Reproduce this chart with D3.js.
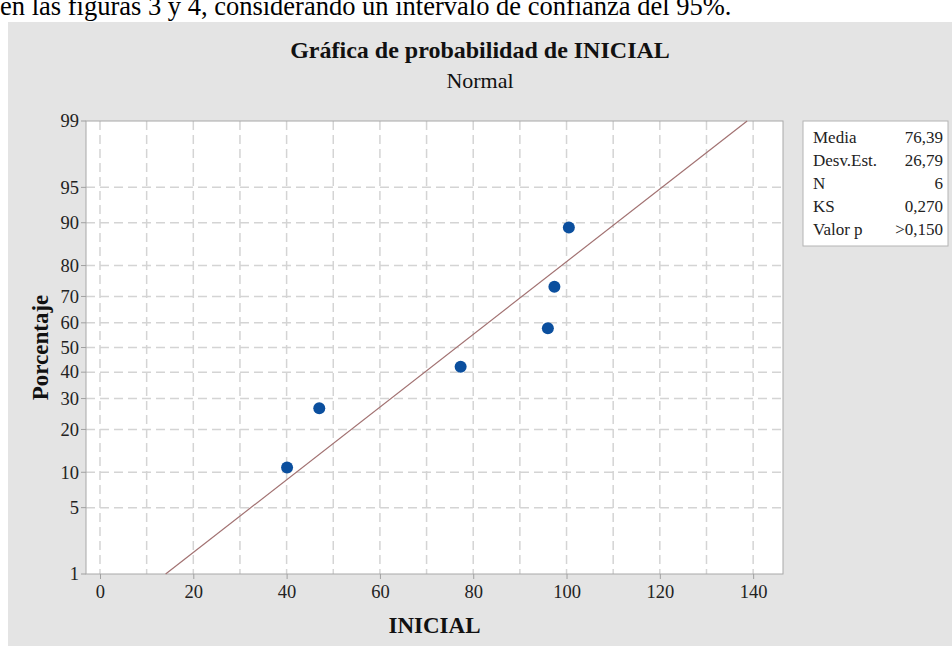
<!DOCTYPE html>
<html>
<head>
<meta charset="utf-8">
<script src="https://cdn.jsdelivr.net/npm/d3@7"></script>
<style>
  html, body { margin: 0; padding: 0; background: #ffffff; }
  svg { display: block; }
  svg text { font-family: "Liberation Serif", "DejaVu Serif", serif; }
</style>
</head>
<body>
<svg id="chart" width="952" height="646"></svg>
<script>
// Observed INICIAL values (sorted) and their plotting percentages
const values = [40.1, 47.0, 77.3, 96.0, 97.4, 100.5];
const percents = [10.9, 26.6, 42.2, 57.8, 73.4, 89.1];

// Fitted normal parameters
const fitMean = 76.39;
const fitSd = 26.79;

// Summary table rows
const statLabels = ["Media", "Desv.Est.", "N", "KS", "Valor p"];
const statValues = ["76,39", "26,79", "6", "0,270", ">0,150"];

// Axis ticks
const xTicks = [0, 20, 40, 60, 80, 100, 120, 140];
const xGrid = [0, 10, 20, 30, 40, 50, 60, 70, 80, 90, 100, 110, 120, 130, 140];
const yTicks = [1, 5, 10, 20, 30, 40, 50, 60, 70, 80, 90, 95, 99];

const SERIF = "'Liberation Serif', 'DejaVu Serif', serif";

// Inverse standard normal CDF (Acklam's rational approximation)
function probit(p) {
  const a = [-3.969683028665376e+01, 2.209460984245205e+02, -2.759285104469687e+02,
             1.383577518672690e+02, -3.066479806614716e+01, 2.506628277459239e+00];
  const b = [-5.447609879822406e+01, 1.615858368580409e+02, -1.556989798598866e+02,
             6.680131188771972e+01, -1.328068155288572e+01];
  const c = [-7.784894002430293e-03, -3.223964580411365e-01, -2.400758277161838e+00,
             -2.549732539343734e+00, 4.374664141464968e+00, 2.938163982698783e+00];
  const d = [7.784695709041462e-03, 3.224671290700398e-01, 2.445134137142996e+00,
             3.754408661907416e+00];
  const pl = 0.02425, ph = 1 - pl;
  let q, r;
  if (p < pl) {
    q = Math.sqrt(-2 * Math.log(p));
    return (((((c[0]*q+c[1])*q+c[2])*q+c[3])*q+c[4])*q+c[5]) /
           ((((d[0]*q+d[1])*q+d[2])*q+d[3])*q+1);
  }
  if (p <= ph) {
    q = p - 0.5; r = q * q;
    return (((((a[0]*r+a[1])*r+a[2])*r+a[3])*r+a[4])*r+a[5])*q /
           (((((b[0]*r+b[1])*r+b[2])*r+b[3])*r+b[4])*r+1);
  }
  q = Math.sqrt(-2 * Math.log(1 - p));
  return -(((((c[0]*q+c[1])*q+c[2])*q+c[3])*q+c[4])*q+c[5]) /
          ((((d[0]*q+d[1])*q+d[2])*q+d[3])*q+1);
}

const svg = d3.select("#chart");

// Plot frame
const plot = { left: 86, right: 783, top: 121, bottom: 574 };

const x = d3.scaleLinear().domain([-3, 146.4]).range([plot.left, plot.right]);
const zScale = d3.scaleLinear()
  .domain([probit(0.01), probit(0.99)])
  .range([plot.bottom, plot.top]);
const y = p => zScale(probit(p / 100));

// Line of running text above the graph panel
svg.append("text")
  .attr("x", 0).attr("y", 15)
  .style("font-family", SERIF)
  .attr("font-size", 26.5)
  .attr("fill", "#000")
  .text("en las figuras 3 y 4, considerando un intervalo de confianza del 95%.");

// Grey graph panel
svg.append("rect")
  .attr("x", 8).attr("y", 22).attr("width", 944).attr("height", 624)
  .attr("fill", "#e4e4e4");

// Titles
svg.append("text")
  .attr("x", 480).attr("y", 58)
  .attr("text-anchor", "middle")
  .style("font-family", SERIF)
  .attr("font-size", 24).attr("font-weight", "bold")
  .attr("fill", "#111")
  .text("Gráfica de probabilidad de INICIAL");
svg.append("text")
  .attr("x", 480).attr("y", 88)
  .attr("text-anchor", "middle")
  .style("font-family", SERIF)
  .attr("font-size", 22)
  .attr("fill", "#111")
  .text("Normal");

// Data area
svg.append("rect")
  .attr("x", plot.left).attr("y", plot.top)
  .attr("width", plot.right - plot.left).attr("height", plot.bottom - plot.top)
  .attr("fill", "#ffffff");

// Dashed reference grid
const grid = svg.append("g")
  .attr("stroke", "#d4d4d4").attr("stroke-width", 1.5).attr("stroke-dasharray", "9,5");
grid.selectAll("line.v").data(xGrid).join("line")
  .attr("class", "v")
  .attr("x1", d => x(d)).attr("x2", d => x(d))
  .attr("y1", plot.top).attr("y2", plot.bottom);
grid.selectAll("line.h").data(yTicks.filter(t => t !== 1 && t !== 99)).join("line")
  .attr("class", "h")
  .attr("x1", plot.left).attr("x2", plot.right)
  .attr("y1", d => y(d)).attr("y2", d => y(d));

// Frame
svg.append("rect")
  .attr("x", plot.left).attr("y", plot.top)
  .attr("width", plot.right - plot.left).attr("height", plot.bottom - plot.top)
  .attr("fill", "none").attr("stroke", "#a8a8a8").attr("stroke-width", 1);

// X axis
const xAxis = d3.axisBottom(x).tickValues(xTicks).tickSize(5).tickPadding(6).tickFormat(d3.format("d"));
const gx = svg.append("g").attr("transform", `translate(0,${plot.bottom})`).call(xAxis);
gx.attr("font-family", null).attr("font-size", null);
gx.select(".domain").remove();
gx.selectAll(".tick line").attr("stroke", "#a0a0a0");
gx.selectAll(".tick text")
  .style("font-family", SERIF).attr("font-size", 18.5).attr("fill", "#222");

// Y axis on the normal probability scale
const gy = svg.append("g").attr("transform", `translate(${plot.left},0)`);
gy.selectAll("g.tick").data(yTicks).join("g")
  .attr("class", "tick")
  .attr("transform", d => `translate(0,${y(d)})`)
  .call(g => {
    g.append("line").attr("x1", -5).attr("x2", 0).attr("stroke", "#a0a0a0");
    g.append("text")
      .attr("x", -7).attr("dy", "0.34em")
      .attr("text-anchor", "end")
      .style("font-family", SERIF)
      .attr("font-size", 18.5).attr("fill", "#222")
      .text(d => d);
  });

// Axis titles
svg.append("text")
  .attr("transform", `translate(48,${(plot.top + plot.bottom) / 2}) rotate(-90)`)
  .attr("text-anchor", "middle")
  .style("font-family", SERIF)
  .attr("font-size", 23).attr("font-weight", "bold").attr("fill", "#111")
  .text("Porcentaje");
svg.append("text")
  .attr("x", (plot.left + plot.right) / 2).attr("y", 633)
  .attr("text-anchor", "middle")
  .style("font-family", SERIF)
  .attr("font-size", 23).attr("font-weight", "bold").attr("fill", "#111")
  .text("INICIAL");

// Fitted normal line, from the 1st to the 99th percentile
const lineEnds = [1, 99];
svg.append("path")
  .datum(lineEnds)
  .attr("fill", "none").attr("stroke", "#a27272").attr("stroke-width", 1.2)
  .attr("d", d3.line()
    .x(p => x(fitMean + probit(p / 100) * fitSd))
    .y(p => y(p)));

// Observations
svg.append("g").selectAll("circle")
  .data(values.map((v, i) => ({ v, p: percents[i] })))
  .join("circle")
  .attr("cx", d => x(d.v)).attr("cy", d => y(d.p))
  .attr("r", 6)
  .attr("fill", "#0b4f9e");

// Summary table
const box = { x: 803, y: 121, w: 145, h: 125 };
svg.append("rect")
  .attr("x", box.x).attr("y", box.y).attr("width", box.w).attr("height", box.h)
  .attr("fill", "#ffffff").attr("stroke", "#b4b4b4");
const rows = svg.append("g").selectAll("g").data(statLabels).join("g")
  .attr("transform", (d, i) => `translate(0,${box.y + 22 + i * 23})`);
rows.append("text")
  .attr("x", box.x + 10)
  .style("font-family", SERIF)
  .attr("font-size", 17).attr("fill", "#222")
  .text(d => d);
rows.append("text")
  .attr("x", box.x + box.w - 5).attr("text-anchor", "end")
  .style("font-family", SERIF)
  .attr("font-size", 17).attr("fill", "#222")
  .text((d, i) => statValues[i]);
</script>
</body>
</html>
